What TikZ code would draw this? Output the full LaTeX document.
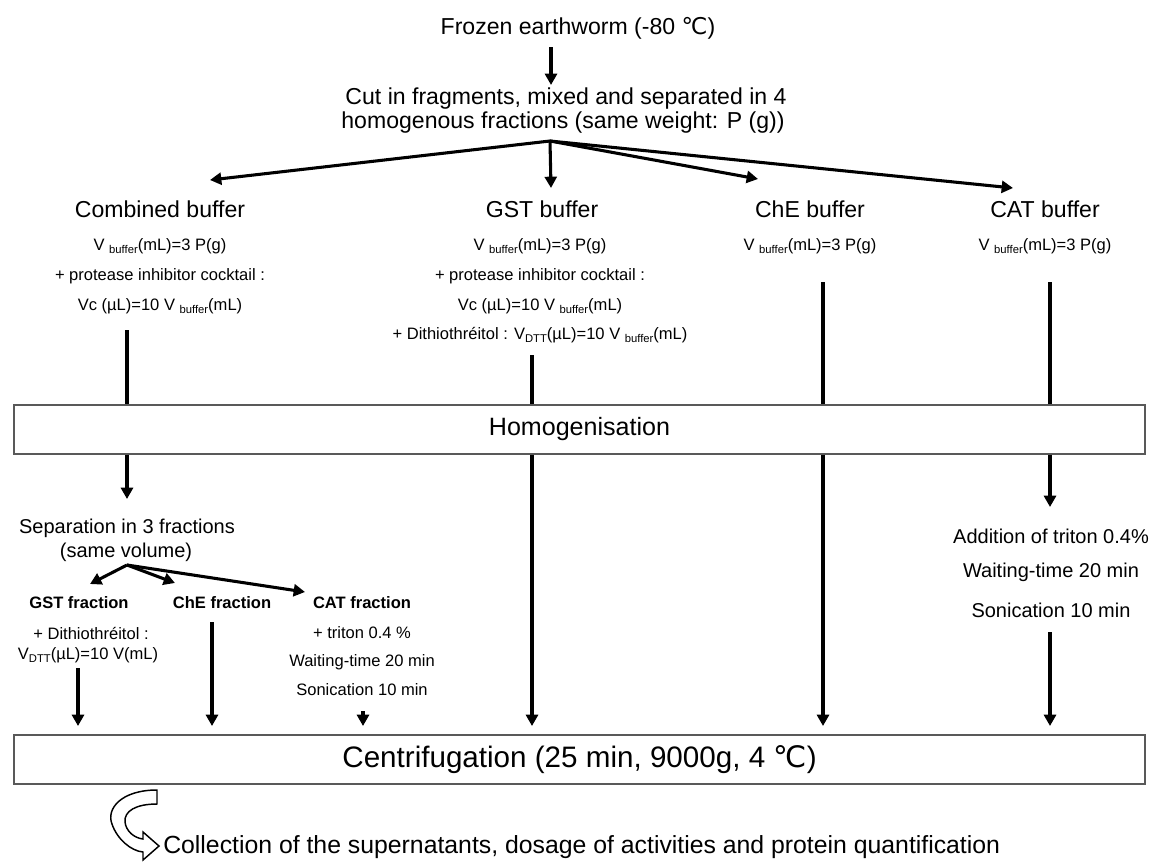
\documentclass[tikz,border=0pt]{standalone}
\usepackage{fontspec}
\setmainfont{Liberation Sans}
\newfontfamily\dejavu{DejaVu Sans}
\usetikzlibrary{arrows.meta}
\newcommand\lsub[1]{\raisebox{-0.45ex}{\scalebox{0.68}{#1}}}
\newcommand\degC{{\dejavu ℃}}
\begin{document}
\begin{tikzpicture}[x=0.75pt,y=-0.75pt,
  lbl/.style={inner sep=0pt, anchor=base},
  big/.style={lbl, font=\fontsize{17.3}{21}\selectfont},
  sm/.style={lbl, font=\fontsize{12.4}{15}\selectfont},
  med/.style={lbl, font=\fontsize{15}{18}\selectfont},
  bsm/.style={lbl, font=\fontsize{12.4}{15}\selectfont\bfseries},
  arr/.style={line width=2.3pt, -{Triangle[length=8.5pt,width=9pt]}},
  ln/.style={line width=2.3pt},
  box/.style={draw=black!65, line width=1pt, fill=white, inner sep=0pt,
    minimum width=848.25pt, minimum height=36.75pt}]
\useasboundingbox (0,0) rectangle (1149,861);

% top
\node[big] (frozen) at (578,34) {Frozen earthworm (-80 \degC)};
\node[big] (cut1) at (566,104) {Cut in fragments, mixed and separated in 4};
\node[big] (cut2) at (563,128) {homogenous fractions (same weight: P (g))};
\coordinate (f1) at (551,47);
\coordinate (f2) at (551,85);
\draw[arr] (f1) -- (f2);
\coordinate (apex) at (550,141);
\coordinate (tComb) at (210,180);
\coordinate (tGST) at (551,188);
\coordinate (tChE) at (758,179);
\coordinate (tCAT) at (1013,188);
\draw[arr] (apex) -- (tComb);
\draw[arr] (apex) -- (tGST);
\draw[arr] (apex) -- (tChE);
\draw[arr] (apex) -- (tCAT);

% buffers
\node[big] (comb) at (160,217) {Combined buffer};
\node[big] (gst) at (542,217) {GST buffer};
\node[big] (che) at (810,217) {ChE buffer};
\node[big] (cat) at (1045,217) {CAT buffer};

\node[sm] (comb1) at (160,250) {V \lsub{buffer}(mL)=3 P(g)};
\node[sm] (comb2) at (160,280) {+ protease inhibitor cocktail :};
\node[sm] (comb3) at (160,310) {Vc (µL)=10 V \lsub{buffer}(mL)};

\node[sm] (gst1) at (540,250) {V \lsub{buffer}(mL)=3 P(g)};
\node[sm] (gst2) at (540,280) {+ protease inhibitor cocktail :};
\node[sm] (gst3) at (540,310) {Vc (µL)=10 V \lsub{buffer}(mL)};
\node[sm] (gst4) at (540,339) {+ Dithiothréitol : V\lsub{DTT}(µL)=10 V \lsub{buffer}(mL)};

\node[sm] (che1) at (810,250) {V \lsub{buffer}(mL)=3 P(g)};
\node[sm] (cat1) at (1045,250) {V \lsub{buffer}(mL)=3 P(g)};

% homogenisation
\node[box, font=\fontsize{18.8}{22}\selectfont] (homog) at (579.5,429.5) {Homogenisation};
\coordinate (c1) at (127,330);
\coordinate (g1) at (532,355);
\coordinate (h1) at (823,282);
\coordinate (k1) at (1050,282);
\draw[ln] (c1) -- (c1 |- homog.north);
\draw[ln] (g1) -- (g1 |- homog.north);
\draw[ln] (h1) -- (h1 |- homog.north);
\draw[ln] (k1) -- (k1 |- homog.north);

% centrifugation
\node[box, font=\fontsize{22.2}{26}\selectfont] (centri) at (579.5,759.5) {Centrifugation (25 min, 9000g, 4 \degC)};

\coordinate (c2) at (127,499);
\draw[arr] (c2 |- homog.south) -- (c2);
\coordinate (g2) at (532,726);
\draw[arr] (g2 |- homog.south) -- (g2);
\coordinate (h2) at (823,726);
\draw[arr] (h2 |- homog.south) -- (h2);
\coordinate (k2) at (1050,507);
\draw[arr] (k2 |- homog.south) -- (k2);

% combined branch
\node[med] (sep1) at (127,533) {Separation in 3 fractions};
\node[med] (sep2) at (126,557) {(same volume)};
\coordinate (apex2) at (127,565);
\coordinate (tg) at (90,584);
\coordinate (tc) at (175,583);
\coordinate (tk) at (305,592);
\draw[arr] (apex2) -- (tg);
\draw[arr] (apex2) -- (tc);
\draw[arr] (apex2) -- (tk);

\node[bsm] (gstf) at (79,608) {GST fraction};
\node[bsm] (chef) at (222,608) {ChE fraction};
\node[bsm] (catf) at (362,608) {CAT fraction};

\node[sm] (gstf1) at (91,639) {+ Dithiothréitol :};
\node[sm] (gstf2) at (88,659) {V\lsub{DTT}(µL)=10 V(mL)};
\node[sm] (catf1) at (362,638) {+ triton 0.4 \%};
\node[sm] (catf2) at (362,666) {Waiting-time 20 min};
\node[sm] (catf3) at (362,695) {Sonication 10 min};

\coordinate (a1) at (78,668);
\coordinate (a2) at (212,622);
\coordinate (a3) at (363,711);
\draw[arr] (a1) -- (a1 |- g2);
\draw[arr] (a2) -- (a2 |- g2);
\draw[arr] (a3) -- (a3 |- g2);

% CAT right column
\node[med] (add1) at (1051,543) {Addition of triton 0.4\%};
\node[med] (add2) at (1051,577) {Waiting-time 20 min};
\node[med] (add3) at (1051,617) {Sonication 10 min};
\coordinate (k3) at (1050,632);
\draw[arr] (k3) -- (k3 |- g2);

% bottom curved arrow
\draw[line width=1.1pt, fill=white, line join=miter]
  (157,790) .. controls (121,790) and (106,809) .. (112,824)
  .. controls (117,839) and (131,851) .. (143,852)
  -- (143,860) -- (159,846) -- (143,832) -- (143,839)
  .. controls (134,838) and (126,831) .. (125,822)
  .. controls (124,811) and (136,804) .. (157,804) -- cycle;
\node[lbl, anchor=base west, font=\fontsize{18.6}{22}\selectfont] (coll) at (163,853)
  {Collection of the supernatants, dosage of activities and protein quantification};
\end{tikzpicture}
\end{document}
